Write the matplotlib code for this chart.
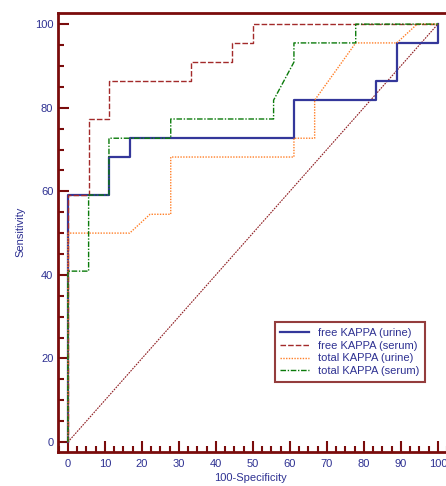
# ROC curves for kappa light chains
import numpy as np
import matplotlib.pyplot as plt
from matplotlib.ticker import MultipleLocator

plt.rcParams['font.family'] = ['Liberation Sans', 'DejaVu Sans']

# curve data (100-Specificity, Sensitivity)
free_urine_x = [0, 0, 11.1, 11.1, 16.7, 16.7, 61.1, 61.1, 83.3, 83.3, 88.9, 88.9, 100, 100]
free_urine_y = [0, 59.1, 59.1, 68.2, 68.2, 72.7, 72.7, 81.8, 81.8, 86.4, 86.4, 95.5, 95.5, 100]

free_serum_x = [0, 0, 5.6, 5.6, 11.1, 11.1, 33.3, 33.3, 44.4, 44.4, 50, 50, 100]
free_serum_y = [0, 59.1, 59.1, 77.3, 77.3, 86.4, 86.4, 90.9, 90.9, 95.5, 95.5, 100, 100]

total_urine_x = [0, 0, 16.7, 22.2, 27.8, 27.8, 61.1, 61.1, 66.7, 66.7, 77.8, 88.9, 94.4, 100]
total_urine_y = [0, 50, 50, 54.5, 54.5, 68.2, 68.2, 72.7, 72.7, 81.8, 95.5, 95.5, 100, 100]

total_serum_x = [0, 0, 5.6, 5.6, 11.1, 11.1, 27.8, 27.8, 55.6, 55.6, 61.1, 61.1, 77.8, 77.8, 100]
total_serum_y = [0, 40.9, 40.9, 59.1, 59.1, 72.7, 72.7, 77.3, 77.3, 81.8, 90.9, 95.5, 95.5, 100, 100]

ref_x = [0, 100]
ref_y = [0, 100]

labels = ['free KAPPA (urine)', 'free KAPPA (serum)', 'total KAPPA (urine)', 'total KAPPA (serum)']

maroon = '#7A0C0C'
navy = '#2E3192'

fig = plt.figure(figsize=(4.46, 4.86), dpi=100)
# right edge of the frame falls outside the picture, as in the original
ax = fig.add_axes([0.129, 0.0706, 0.9, 0.903])

ax.plot(ref_x, ref_y, color='#8E1C20', lw=0.8, ls=(0, (1.5, 1)))
ax.plot(free_urine_x, free_urine_y, color='#34379A', lw=1.6, label=labels[0])
ax.plot(free_serum_x, free_serum_y, color='#A32A2A', lw=1.0, ls=(0, (4, 1.5)), label=labels[1])
ax.plot(total_urine_x, total_urine_y, color='#FF7F27', lw=1.0, ls=(0, (1, 1)), label=labels[2])
ax.plot(total_serum_x, total_serum_y, color='#0A7A0A', lw=1.0, ls=(0, (4, 1.2, 1, 1.2)), label=labels[3])

ax.set_xlim(-2.8, 105.7)
ax.set_ylim(-2.3, 102.7)

ax.xaxis.set_major_locator(MultipleLocator(10))
ax.xaxis.set_minor_locator(MultipleLocator(2.5))
ax.yaxis.set_major_locator(MultipleLocator(20))
ax.yaxis.set_minor_locator(MultipleLocator(5))

for s in ax.spines.values():
    s.set_color(maroon)
    s.set_linewidth(2)

ax.tick_params(which='both', direction='in', color=maroon, width=1.5,
               labelcolor=navy, labelsize=8)
ax.tick_params(which='major', length=8)
ax.tick_params(which='minor', length=4)
ax.tick_params(axis='y', pad=3)
ax.tick_params(axis='x', pad=5)
ax.tick_params(top=False, right=False, which='both')

ax.set_xlabel('100-Specificity', color=navy, fontsize=8)
ax.set_ylabel('Sensitivity', color=navy, fontsize=8)
ax.xaxis.set_label_coords(0.5 * 385.5 / 401.4, -0.049)
ax.yaxis.set_label_coords(-0.081, 0.5)

# legend box placed in axes fraction (frame width is 401.4 px)
leg = ax.legend(loc='upper right', bbox_to_anchor=((430.7 - 57.5) / 401.4, 0.3075), fontsize=8,
                frameon=True, fancybox=False, handlelength=2.6, labelspacing=0.25,
                borderpad=0.5, handletextpad=0.8)
leg.get_frame().set_edgecolor(maroon)
leg.get_frame().set_linewidth(1.5)
for t in leg.get_texts():
    t.set_color(navy)

fig.savefig('out.png', dpi=100)
